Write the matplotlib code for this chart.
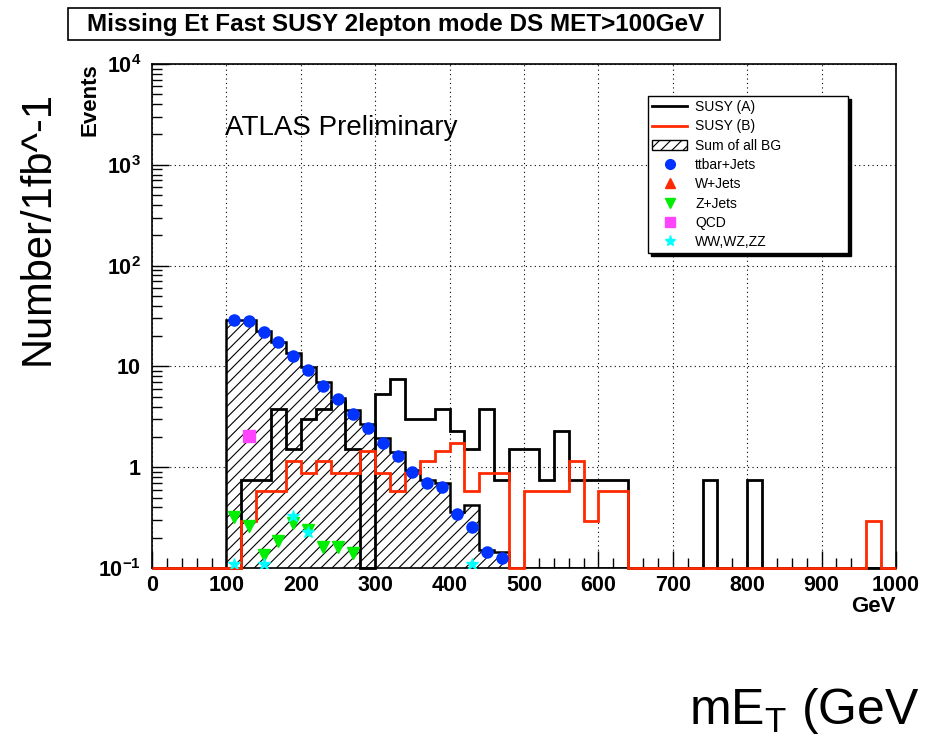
import numpy as np
import matplotlib
matplotlib.use("Agg")
import matplotlib.pyplot as plt
from matplotlib.lines import Line2D
from matplotlib.patches import Patch, Rectangle
from matplotlib.ticker import MultipleLocator, LogLocator, NullFormatter

plt.rcParams['font.family'] = ['Liberation Sans', 'DejaVu Sans']
plt.rcParams['mathtext.fontset'] = 'custom'
plt.rcParams['mathtext.rm'] = 'Liberation Sans'
plt.rcParams['mathtext.bf'] = 'Liberation Sans:bold'
plt.rcParams['mathtext.default'] = 'bf'
plt.rcParams['hatch.linewidth'] = 0.8

# 20 GeV bins, 0..1000 GeV
bin_edges = np.arange(0, 1001, 20)

susy_a = [0, 0, 0, 0, 0, 0, 0.755, 0.755, 3.78, 1.51,
          3.02, 3.78, 4.53, 1.51, 0, 5.29, 7.55, 3.02, 3.02, 3.78,
          2.27, 1.51, 3.78, 0.755, 1.51, 1.51, 0.755, 2.27, 0.755, 0.755,
          0.755, 0.755, 0, 0, 0, 0, 0, 0.755, 0, 0,
          0.755, 0, 0, 0, 0, 0, 0, 0, 0, 0]

susy_b = [0, 0, 0, 0, 0, 0, 0.29, 0.58, 0.58, 1.15,
          0.87, 1.15, 0.87, 0.87, 1.45, 0.87, 0.58, 0.87, 1.15, 1.45,
          1.74, 0.58, 0.87, 0.87, 0, 0.58, 0.58, 0.58, 1.15, 0.29,
          0.58, 0.58, 0, 0, 0, 0, 0, 0, 0, 0,
          0, 0, 0, 0, 0, 0, 0, 0, 0.29, 0]

sum_bg = [0, 0, 0, 0, 0, 28.7, 28.7, 22.3, 17.5, 13.6,
          9.9, 7.0, 4.9, 3.7, 2.7, 1.95, 1.42, 0.93, 0.74, 0.69,
          0.36, 0.42, 0.15, 0.145, 0, 0, 0, 0, 0, 0,
          0, 0, 0, 0, 0, 0, 0, 0, 0, 0,
          0, 0, 0, 0, 0, 0, 0, 0, 0, 0]

ttbar_x = [110, 130, 150, 170, 190, 210, 230, 250, 270, 290,
           310, 330, 350, 370, 390, 410, 430, 450, 470]
ttbar_y = [28.7, 28.1, 22.0, 17.3, 12.6, 9.3, 6.45, 4.8, 3.35, 2.45,
           1.72, 1.29, 0.886, 0.705, 0.63, 0.342, 0.256, 0.143, 0.127]

wjets_x = []
wjets_y = []

zjets_x = [110, 130, 150, 170, 190, 210, 230, 250, 270]
zjets_y = [0.32, 0.26, 0.135, 0.185, 0.28, 0.24, 0.16, 0.16, 0.14]

qcd_x = [130]
qcd_y = [2.03]

diboson_x = [110, 150, 190, 210, 430]
diboson_y = [0.11, 0.11, 0.33, 0.23, 0.11]

ymin, ymax = 0.1, 1e4
red = '#ff2a00'

fig = plt.figure(figsize=(9.26, 7.37), dpi=100)
ax = fig.add_axes([152/926, 1-568/737, 744/926, 504/737])

ax.stairs(np.clip(sum_bg, ymin, None), bin_edges, baseline=ymin, fill=True,
          facecolor='white', edgecolor='black', hatch='///', lw=1.8, zorder=2)
ax.stairs(np.clip(susy_a, ymin, None), bin_edges, baseline=None,
          color='black', lw=2.0, zorder=3, clip_on=False)
ax.stairs(np.clip(susy_b, ymin, None), bin_edges, baseline=None,
          color=red, lw=2.0, zorder=4, clip_on=False)

ax.plot(ttbar_x, ttbar_y, 'o', color='#0033ff', ms=8, zorder=5)
ax.plot(wjets_x, wjets_y, '^', color=red, ms=8, zorder=5)
ax.plot(zjets_x, zjets_y, 'v', color='#00ee00', ms=8, zorder=5)
ax.plot(qcd_x, qcd_y, 's', color='#ff44ff', ms=8, zorder=5)
ax.plot(diboson_x, diboson_y, '*', color='#00ffff', ms=9, zorder=5)

ax.set_yscale('log')
ax.set_xlim(0, 1000)
ax.set_ylim(ymin, ymax)

ax.xaxis.set_major_locator(MultipleLocator(100))
ax.xaxis.set_minor_locator(MultipleLocator(20))
ax.set_yticks([0.1, 1, 10, 100, 1000, 10000])
ax.set_yticklabels([r'$10^{-1}$', '1', '10', r'$10^{2}$', r'$10^{3}$', r'$10^{4}$'])
ax.yaxis.set_minor_locator(LogLocator(base=10, subs=np.arange(2, 10)))
ax.yaxis.set_minor_formatter(NullFormatter())
ax.tick_params(which='both', direction='in', top=False, right=False, width=1)
ax.tick_params(which='major', length=12, labelsize=15.5)
ax.tick_params(which='minor', length=7)
ax.tick_params(axis='x', pad=5)
ax.tick_params(axis='y', pad=8)
for lab in ax.get_xticklabels() + ax.get_yticklabels():
    lab.set_fontweight('bold')
for s in ax.spines.values():
    s.set_linewidth(1.2)

ax.grid(True, which='major', color='black', lw=0.8, linestyle=(0, (1, 3)))
ax.set_axisbelow(True)

# titles and labels
fig.patches.append(Rectangle((68/926, 1-40/737), 652/926, 32/737,
                             transform=fig.transFigure, fill=False, lw=1.2, edgecolor='black'))
fig.text(396/926, 1-24/737, 'Missing Et Fast SUSY 2lepton mode DS MET>100GeV',
         ha='center', va='center', fontsize=17.5, fontweight='bold')
fig.text(90/926, 1-63/737, 'Events', rotation=90, ha='center', va='top',
         fontsize=16, fontweight='bold')
fig.text(896/926, 1-606/737, 'GeV', ha='right', va='center', fontsize=16, fontweight='bold')
fig.text(225/926, 1-128/737, 'ATLAS Preliminary', ha='left', va='center', fontsize=20)
fig.text(38/926, 1-228/737, 'Number/1fb^-1', rotation=90, ha='center', va='center', fontsize=30)
fig.text(689/926, 1-724/737, r'mE$_\mathrm{T}$ (GeV', ha='left', va='baseline', fontsize=36)

handles = [
    Line2D([], [], color='black', lw=2),
    Line2D([], [], color=red, lw=2),
    Patch(facecolor='white', edgecolor='black', hatch='///', lw=1),
    Line2D([], [], marker='o', ls='none', color='#0033ff', ms=7),
    Line2D([], [], marker='^', ls='none', color=red, ms=7),
    Line2D([], [], marker='v', ls='none', color='#00ee00', ms=7),
    Line2D([], [], marker='s', ls='none', color='#ff44ff', ms=7),
    Line2D([], [], marker='*', ls='none', color='#00ffff', ms=8),
]
labels = ['SUSY (A)', 'SUSY (B)', 'Sum of all BG', 'ttbar+Jets', 'W+Jets',
          'Z+Jets', 'QCD', 'WW,WZ,ZZ']
leg = ax.legend(handles, labels, loc='upper left',
                bbox_to_anchor=(648/926, 1-96/737-0.01, 200/926, 0.01), mode='expand',
                bbox_transform=fig.transFigure, borderaxespad=0, fontsize=10,
                frameon=True, fancybox=False, shadow={'color': 'black', 'alpha': 1},
                handlelength=2.5, handletextpad=0.6, labelspacing=0.38,
                borderpad=0.3, numpoints=1)
leg.get_frame().set_edgecolor('black')
leg.get_frame().set_linewidth(1)
leg.get_frame().set_alpha(1)
leg.set_zorder(10)

fig.savefig('out.png', dpi=100)
